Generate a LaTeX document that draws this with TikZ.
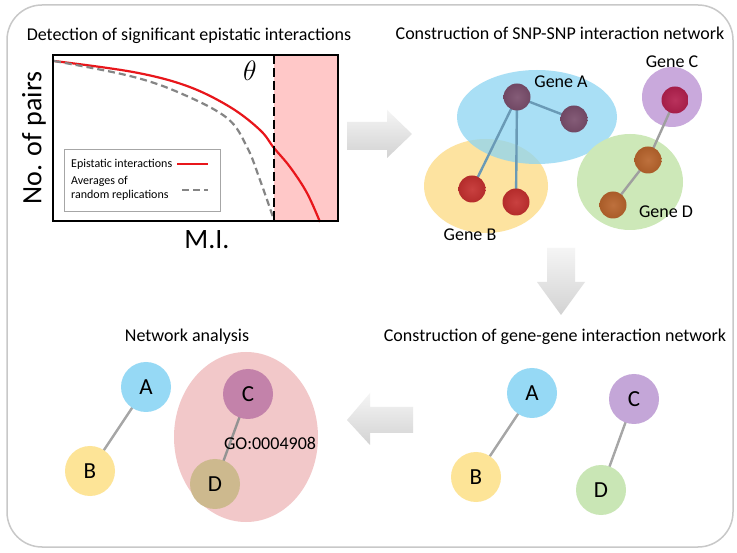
\documentclass[tikz,border=0pt]{standalone}
\usepackage{fontspec}
\setmainfont{Carlito}
\usetikzlibrary{shapes.geometric}
\definecolor{frame}{HTML}{C8C8C8}
\definecolor{pinkbg}{HTML}{FFC8C8}
\definecolor{redc}{HTML}{E8161B}
\definecolor{grayc}{HTML}{858585}
\definecolor{blueE}{HTML}{8DD5F2}
\definecolor{yellowE}{HTML}{FDE3A0}
\definecolor{purpleE}{HTML}{C9A9DC}
\definecolor{greenE}{HTML}{CDE8B8}
\definecolor{snpA}{HTML}{7A4E6C}
\definecolor{snpB}{HTML}{C4302F}
\definecolor{snpC}{HTML}{B3204E}
\definecolor{snpD}{HTML}{B8642C}
\definecolor{edgeA}{HTML}{6A9AB6}
\definecolor{geneA}{HTML}{96D9F5}
\definecolor{geneB}{HTML}{FDE497}
\definecolor{geneC}{HTML}{C4A6D8}
\definecolor{geneD}{HTML}{C9E6B5}
\definecolor{goC}{HTML}{C382AA}
\definecolor{goD}{HTML}{CDB98E}
\definecolor{goE}{HTML}{F2C8C9}
\tikzset{
  title/.style={font=\fontsize{18}{20}\selectfont, inner sep=0pt},
  snp/.style={circle, minimum size=27pt, inner sep=0pt, shading=radial, inner color=#1!92!white, outer color=#1!92!black},
  gene/.style={circle, minimum size=50pt, inner sep=0pt, fill=#1, font=\fontsize{23}{25}\selectfont},
  genelbl/.style={font=\fontsize{18}{20}\selectfont, inner sep=0pt},
  link/.style={line width=2.4pt, draw=#1},
  blockarrow/.style={top color=gray!8, bottom color=gray!35, draw=none},
}
\begin{document}
\begin{tikzpicture}[x=1pt,y=-1pt]
\useasboundingbox (0,0) rectangle (737,553);
\fill[white] (0,0) rectangle (737,553);
% outer frame
\draw[frame, line width=1.5pt, rounded corners=35pt] (7,5) rectangle (733,547);

% ---------- Panel 1 ----------
\node[title] (t1) at (189,36) {Detection of significant epistatic interactions};
\fill[pinkbg] (274,55) rectangle (338,221);
\draw[redc, line width=2.2pt] plot[smooth, tension=0.6] coordinates {(54,61) (133,72) (187,86) (230,107) (260,130) (274,148) (290,167) (307,193) (320,222)};
\draw[grayc, line width=2.2pt, dash pattern=on 7pt off 4pt] plot[smooth, tension=0.6] coordinates {(54,61) (130,76) (180,93) (227,118) (247,147) (260,180) (274,220)};
\draw[black, line width=2.4pt, dash pattern=on 9pt off 4pt] (274,55) -- (274,221);
\draw[black, line width=1.5pt] (53,55) rectangle (338,221);
\node[font=\fontsize{20}{22}\selectfont, inner sep=0pt] (theta) at (250,71) {\scalebox{1.35}{$\theta$}};
\node[rotate=90, font=\fontsize{28}{30}\selectfont, inner sep=0pt] (ylab) at (34,138) {No. of pairs};
\node[font=\fontsize{28}{30}\selectfont, inner sep=0pt] (xlab) at (207,240) {M.I.};
% legend
\draw[gray!70, line width=0.6pt] (64,149) rectangle (220,211);
\node[anchor=west, font=\fontsize{12}{13}\selectfont, inner sep=0pt] (l1) at (71,164) {Epistatic interactions};
\node[anchor=west, font=\fontsize{12}{14}\selectfont, inner sep=0pt, align=left] (l2) at (71,188) {Averages of\\random replications};
\coordinate (r1) at (177,164); \coordinate (r2) at (208,164);
\draw[redc, line width=2.2pt] (r1) -- (r2);
\coordinate (g1) at (182,190); \coordinate (g2) at (208,190);
\draw[grayc, line width=2.2pt, dash pattern=on 7pt off 4pt] (g1) -- (g2);

% ---------- arrows ----------
\path[blockarrow] (347,122) -- (387,122) -- (387,110) -- (412,134) -- (387,158) -- (387,150) -- (347,150) -- cycle;
\path[blockarrow] (547,248) -- (575,248) -- (575,282) -- (585,282) -- (561,315) -- (537,282) -- (547,282) -- cycle;
\path[blockarrow] (413,407) -- (370,407) -- (370,393) -- (347,420) -- (370,445) -- (370,433) -- (413,433) -- cycle;

% ---------- Panel 2 ----------
\node[title] (t2) at (560,33) {Construction of SNP-SNP interaction network};
\fill[yellowE] (486,186) ellipse [x radius=62pt, y radius=47pt];
\fill[blueE, fill opacity=0.75] (537,117) ellipse [x radius=80pt, y radius=47pt];
\fill[purpleE] (672,97) circle [radius=30pt];
\fill[greenE] (630,182) ellipse [x radius=53pt, y radius=48pt];
\coordinate (pa1) at (517,97); \coordinate (pa2) at (574,119);
\coordinate (pb1) at (472,189); \coordinate (pb2) at (516,202);
\coordinate (pc1) at (675,100); \coordinate (pd1) at (648,160);
\coordinate (pd2) at (613,205);
\draw[link=edgeA] (pa1) -- (pa2);
\draw[link=edgeA] (pa1) -- (pb1);
\draw[link=edgeA] (pa1) -- (pb2);
\draw[link=gray!75] (pc1) -- (pd1);
\draw[link=gray!75] (pd1) -- (pd2);
\node[snp=snpA] (a1) at (pa1) {};
\node[snp=snpA] (a2) at (pa2) {};
\node[snp=snpB] (b1) at (pb1) {};
\node[snp=snpB] (b2) at (pb2) {};
\node[snp=snpC] (c1) at (pc1) {};
\node[snp=snpD] (d1) at (pd1) {};
\node[snp=snpD] (d2) at (pd2) {};
\node[genelbl] (lA) at (561,82) {Gene A};
\node[genelbl] (lB) at (470,235) {Gene B};
\node[genelbl] (lC) at (672,62) {Gene C};
\node[genelbl] (lD) at (666,212) {Gene D};

% ---------- Panel 3 ----------
\node[title] (t3) at (555,337) {Construction of gene-gene interaction network};
\coordinate (pA) at (532,393); \coordinate (pB) at (476,477);
\coordinate (pC) at (634,399); \coordinate (pD) at (601,490);
\draw[link=gray!70] (pA) -- (pB);
\draw[link=gray!70] (pC) -- (pD);
\node[gene=geneA] (gA) at (pA) {A};
\node[gene=geneB] (gB) at (pB) {B};
\node[gene=geneC] (gC) at (pC) {C};
\node[gene=geneD] (gD) at (pD) {D};

% ---------- Panel 4 ----------
\node[title] (t4) at (187,337) {Network analysis};
\fill[goE] (246,437) ellipse [x radius=72pt, y radius=85pt];
\coordinate (qA) at (146,387); \coordinate (qB) at (90,471);
\coordinate (qC) at (248,394); \coordinate (qD) at (215,484);
\draw[link=gray!70] (qA) -- (qB);
\draw[link=gray!85] (qC) -- (qD);
\node[gene=geneA] (nA) at (qA) {A};
\node[gene=geneB] (nB) at (qB) {B};
\node[gene=goC] (nC) at (qC) {C};
\node[gene=goD] (nD) at (qD) {D};
\node[font=\fontsize{18}{20}\selectfont, inner sep=0pt] (go) at (270,443) {GO:0004908};
\end{tikzpicture}
\end{document}
